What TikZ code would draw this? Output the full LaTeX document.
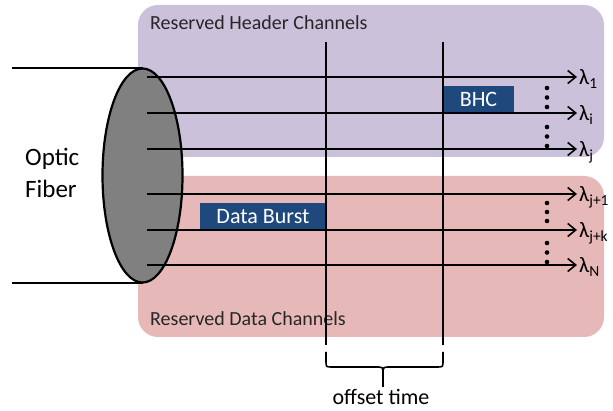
\documentclass[tikz,border=0pt]{standalone}
\usepackage{fontspec}
\setmainfont{Carlito}
\usetikzlibrary{arrows.meta,shapes.geometric}
\definecolor{hdrfill}{HTML}{CCC1DA}
\definecolor{datfill}{HTML}{E6B9B8}
\definecolor{burstfill}{HTML}{1F497D}
\definecolor{fibergray}{HTML}{808080}
\begin{document}
\begin{tikzpicture}[x=1pt,y=-1pt,
  regionbox/.style={rectangle,rounded corners=20pt,inner sep=0pt,draw=none},
  regionlabel/.style={anchor=base west,inner sep=0pt,font=\fontsize{20}{24}\selectfont,text=black!85},
  burstbox/.style={rectangle,fill=burstfill,text=white,inner sep=0pt,font=\fontsize{22}{26}\selectfont},
  chan/.style={line width=1.6pt,-{Straight Barb[length=8pt,width=13pt]}},
  lamlabel/.style={anchor=base west,inner sep=0pt,font=\fontsize{22}{26}\selectfont},
  timeline/.style={line width=1.6pt},
  bracepath/.style={line width=1.6pt,line join=round},
  fiberlabel/.style={anchor=base west,inner sep=0pt,font=\fontsize{25}{30}\selectfont},
  dotmark/.style={fill=black}
]
\useasboundingbox (0,0) rectangle (613,411);

% regions
\node[regionbox,fill=hdrfill,minimum width=466pt,minimum height=152pt] (hdr) at (371,81) {};
\node[regionbox,fill=datfill,minimum width=466pt,minimum height=161pt] (dat) at (371,256.5) {};
\node[regionlabel] (hdrtxt) at (150,30) {Reserved Header Channels};
\node[regionlabel] (dattxt) at (150,326) {Reserved Data Channels};

% fiber outline lines
\coordinate (ftl) at (12,68);
\coordinate (ftr) at (143,68);
\coordinate (fbl) at (12,283);
\coordinate (fbr) at (143,283);
\draw[line width=1.6pt] (ftl) -- (ftr);
\draw[line width=1.6pt] (fbl) -- (fbr);

% fiber ellipse
\node[ellipse,draw=black,line width=2.2pt,fill=fibergray,minimum width=80pt,minimum height=214pt,inner sep=0pt] (fiber) at (142.5,175.5) {};

\node[fiberlabel] (optic) at (25,166) {Optic};
\node[fiberlabel] (fibtxt) at (25,198) {Fiber};

% bursts
\node[burstbox,minimum width=71pt,minimum height=27pt] (bhc) at (478.5,99.5) {BHC};
\node[burstbox,minimum width=126pt,minimum height=27pt] (db) at (263,216.5) {Data Burst};

% channels
\foreach \i/\y in {1/77,2/113,3/149,4/194,5/230,6/265}{
  \coordinate (s\i) at (147,\y);
  \coordinate (e\i) at (577,\y);
  \draw[chan] (s\i) -- (e\i);
}
\node[lamlabel] (l1) at (579,85) {λ\textsubscript{1}};
\node[lamlabel] (l2) at (579,121) {λ\textsubscript{i}};
\node[lamlabel] (l3) at (579,157) {λ\textsubscript{j}};
\node[lamlabel] (l4) at (579,202) {λ\textsubscript{j+1}};
\node[lamlabel] (l5) at (579,238) {λ\textsubscript{j+k}};
\node[lamlabel] (l6) at (579,273) {λ\textsubscript{N}};

% dots
\foreach \y in {88,97.5,107,127,136.5,146,203,212,221,243,252.5,262}{
  \fill[dotmark] (547,\y) circle (2.3);
}

% time lines
\coordinate (v1t) at (326,42);
\coordinate (v1b) at (326,345);
\coordinate (v2t) at (443,42);
\coordinate (v2b) at (443,345);
\draw[timeline] (v1t) -- (v1b);
\draw[timeline] (v2t) -- (v2b);

% brace
\draw[bracepath] (326,352) -- (326,361) .. controls (326,367) .. (332,367) -- (376,367) .. controls (383,367) .. (383,374) -- (383,387);
\draw[bracepath] (443,352) -- (443,361) .. controls (443,367) .. (437,367) -- (390,367) .. controls (383,367) .. (383,374);
\node[font=\fontsize{22}{26}\selectfont,anchor=base,inner sep=0pt] (offset) at (381,405) {offset time};
\end{tikzpicture}
\end{document}
